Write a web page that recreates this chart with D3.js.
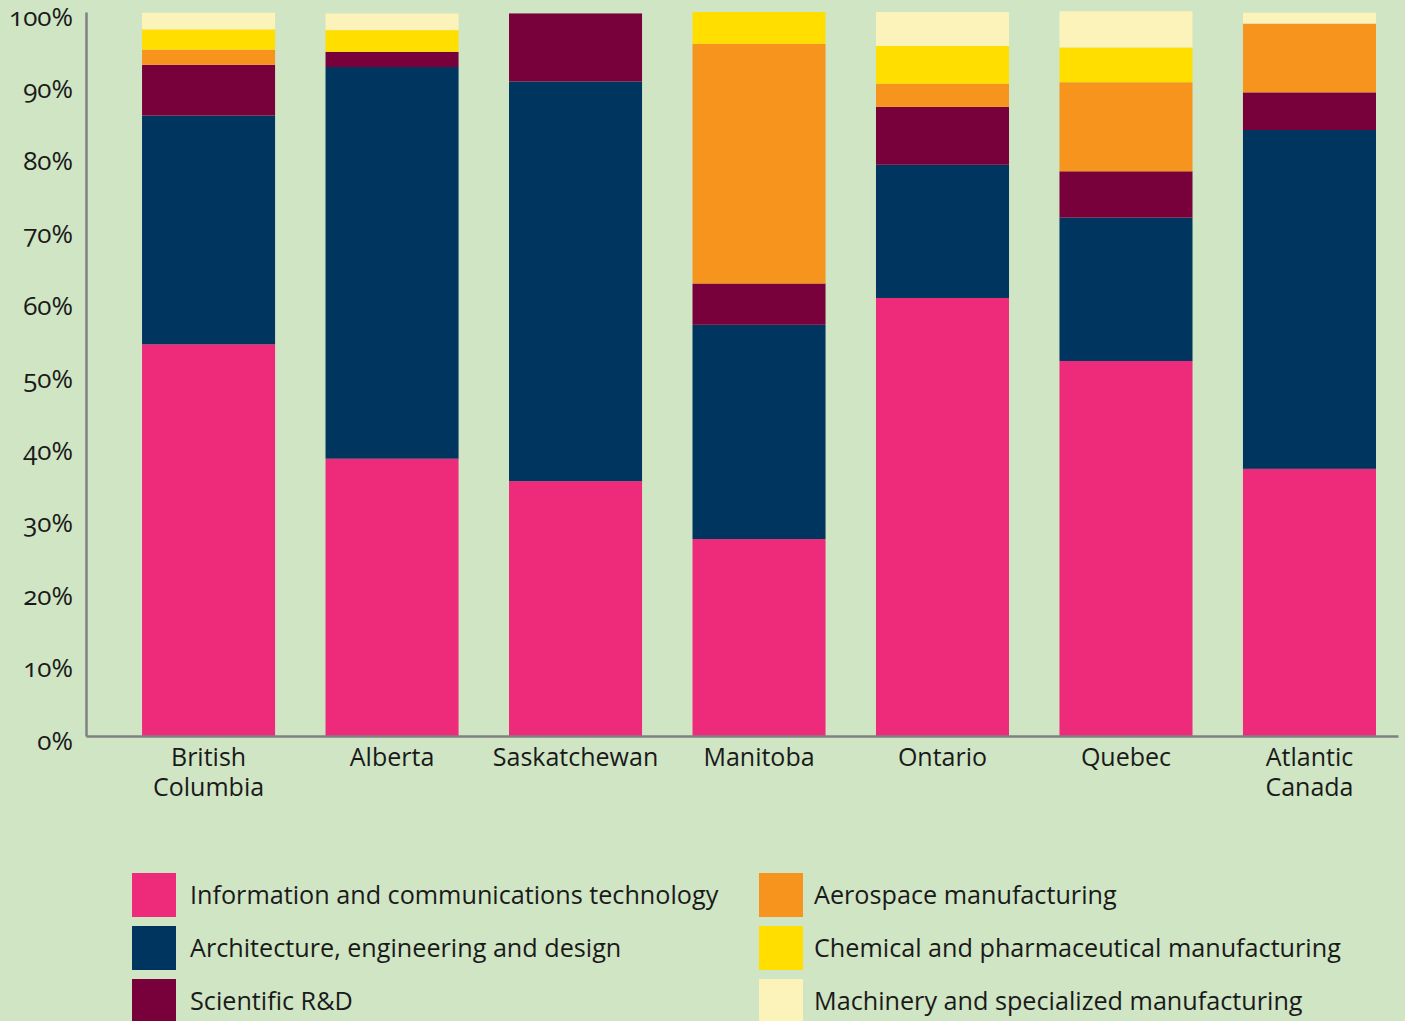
<!DOCTYPE html>
<html>
<head>
<meta charset="utf-8">
<script src="https://cdn.jsdelivr.net/npm/d3@7"></script>
<style>
  html, body { margin: 0; padding: 0; background: #cfe5c4; }
  svg { display: block; }
  text { font-family: "Open Sans", "Noto Sans", sans-serif; fill: #1a1a1a; font-variant-numeric: oldstyle-nums; }
</style>
</head>
<body>
<svg id="chart" width="1405" height="1021"></svg>
<script>
const categories = ["British Columbia", "Alberta", "Saskatchewan", "Manitoba", "Ontario", "Quebec", "Atlantic Canada"];
const seriesNames = [
  "Information and communications technology",
  "Architecture, engineering and design",
  "Scientific R&D",
  "Aerospace manufacturing",
  "Chemical and pharmaceutical manufacturing",
  "Machinery and specialized manufacturing"
];
const ict       = [54.1, 38.3, 35.2, 27.2, 60.5, 51.8, 36.9];
const arch      = [31.6, 54.1, 55.2, 29.6, 18.4, 19.8, 46.8];
const sciRD     = [7.0, 2.1, 9.4, 5.7, 8.0, 6.4, 5.2];
const aerospace = [2.1, 0, 0, 33.1, 3.2, 12.3, 9.5];
const chemical  = [2.8, 3.0, 0, 4.4, 5.2, 4.8, 0];
const machinery = [2.3, 2.3, 0, 0, 4.7, 5.0, 1.5];
const yTicks = [0, 10, 20, 30, 40, 50, 60, 70, 80, 90, 100];
const colors = ["#ee2a7b", "#00355f", "#78003b", "#f7941e", "#ffde00", "#fbf3b9"];

const seriesValues = [ict, arch, sciRD, aerospace, chemical, machinery];
const keys = seriesNames;
const table = categories.map((c, i) => {
  const row = { category: c };
  keys.forEach((k, j) => row[k] = seriesValues[j][i]);
  return row;
});

const svg = d3.select("#chart");
const axisColor = "#808080";

const x = d3.scaleBand()
  .domain(categories)
  .range([86, 1398])
  .paddingInner(0.275)
  .paddingOuter(0.2127)
  .align(0.718);

const y = d3.scaleLinear().domain([0, 100]).range([736, 12]);

const color = d3.scaleOrdinal().domain(keys).range(colors);

const stacked = d3.stack().keys(keys)(table);

svg.append("g")
  .selectAll("g")
  .data(stacked)
  .join("g")
  .attr("fill", d => color(d.key))
  .selectAll("rect")
  .data(d => d)
  .join("rect")
  .attr("x", d => x(d.data.category))
  .attr("width", x.bandwidth())
  .attr("y", d => y(d[1]))
  .attr("height", d => Math.max(0, y(d[0]) - y(d[1])));

// Y axis
const yAxis = svg.append("g")
  .attr("transform", "translate(86,0)")
  .call(d3.axisLeft(y).tickValues(yTicks).tickSize(0).tickPadding(13).tickFormat(d => d + "%"));
yAxis.select(".domain").attr("stroke", axisColor).attr("stroke-width", 2.5);
yAxis.selectAll("text")
  .attr("font-size", 26)
  .attr("font-family", "Open Sans, Noto Sans, sans-serif")
  .attr("fill", "#1a1a1a")
  .attr("dy", "0.5em");

// X axis
const xAxis = svg.append("g")
  .attr("transform", "translate(0,736)")
  .call(d3.axisBottom(x).tickSize(0).tickPadding(0).tickFormat(""));
xAxis.select(".domain").attr("stroke", axisColor).attr("stroke-width", 2.5);

xAxis.selectAll(".tick").each(function(d) {
  const words = d.split(" ");
  const t = d3.select(this).append("text")
    .attr("text-anchor", "middle")
    .attr("font-size", 25)
    .attr("fill", "#1a1a1a");
  words.forEach((w, i) => {
    t.append("tspan").attr("x", 0).attr("y", 30 + i * 30).text(w);
  });
});

// Legend
const legendPos = [
  [132, 873, 58], [132, 926, 58], [132, 979, 58],
  [759, 873, 55], [759, 926, 55], [759, 979, 55]
];
const legend = svg.append("g");
keys.forEach((k, i) => {
  const [lx, ly, off] = legendPos[i];
  legend.append("rect")
    .attr("x", lx).attr("y", ly)
    .attr("width", 44).attr("height", 44)
    .attr("fill", color(k));
  legend.append("text")
    .attr("x", lx + off).attr("y", ly + 31)
    .attr("font-size", 25.2)
    .attr("fill", "#1a1a1a")
    .text(k);
});
</script>
</body>
</html>
